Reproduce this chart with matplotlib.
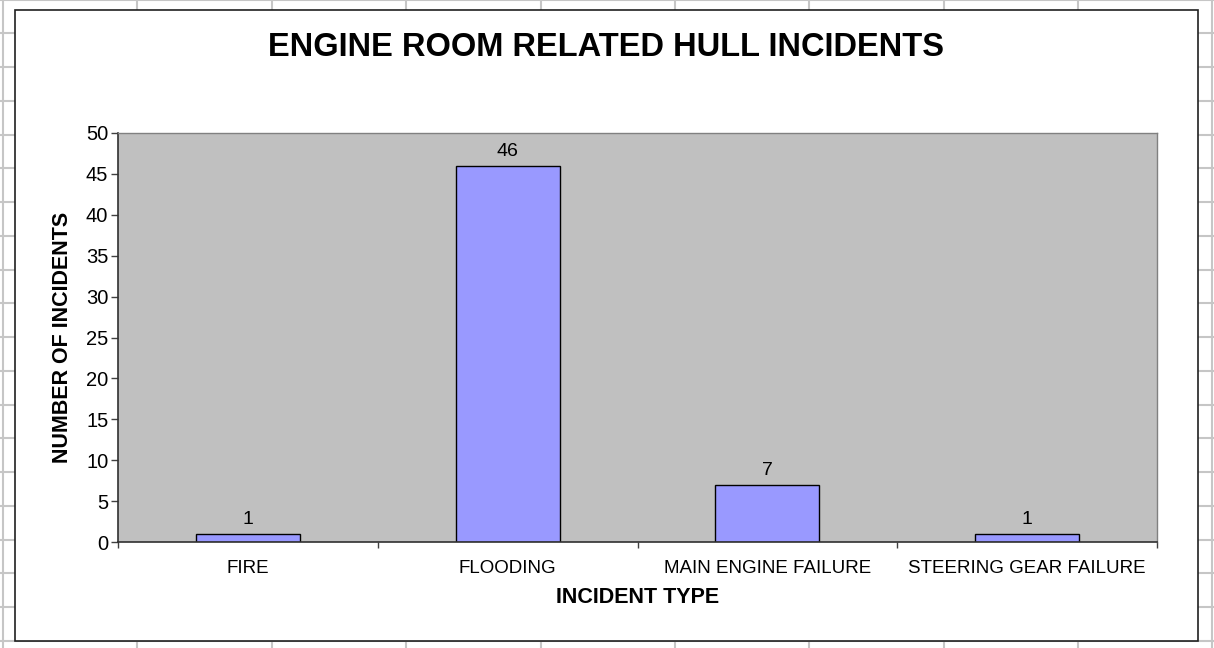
import matplotlib
matplotlib.use("Agg")
import matplotlib.pyplot as plt
from matplotlib.lines import Line2D
from matplotlib.patches import Rectangle

categories = ["FIRE", "FLOODING", "MAIN ENGINE FAILURE", "STEERING GEAR FAILURE"]
values = [1, 46, 7, 1]
y_ticks = [0, 5, 10, 15, 20, 25, 30, 35, 40, 45, 50]

W, H = 1214, 648
plt.rcParams['font.family'] = ['Liberation Sans', 'DejaVu Sans']
fig = plt.figure(figsize=(W / 100, H / 100), dpi=100)

# spreadsheet background grid
grid_c = '#c6c6c6'
for x in [3, 137, 272, 406, 541, 675, 809, 944, 1078, 1212]:
    fig.add_artist(Line2D([x / W, x / W], [0, 1], color=grid_c, lw=1.5, zorder=-3))
for k in range(0, 21):
    y = -0.5 + 33.75 * k
    fig.add_artist(Line2D([0, 1], [1 - y / H, 1 - y / H], color=grid_c, lw=1.5, zorder=-3))

# chart area box
fig.add_artist(Rectangle((15 / W, 1 - 641 / H), (1198 - 15) / W, (641 - 10) / H,
                         facecolor='white', edgecolor='#202020', lw=1.2, zorder=-1))

ax = fig.add_axes([118 / W, 1 - 542 / H, (1157 - 118) / W, (542 - 133) / H])
ax.set_facecolor('#C0C0C0')
x = list(range(len(categories)))
bars = ax.bar(x, values, width=0.4, color='#9999FF', edgecolor='black', linewidth=1.0)
for xi, v in zip(x, values):
    ax.annotate(str(v), (xi, v), xytext=(0, 4), textcoords='offset points',
                ha='center', va='bottom', fontsize=14, color='black')

ax.set_xlim(-0.5, 3.5)
ax.set_ylim(0, 50)
ax.set_yticks(y_ticks)
ax.set_yticklabels([str(t) for t in y_ticks], fontsize=14.5)
ax.set_xticks(x)
ax.set_xticklabels(categories, fontsize=13.5)
ax.set_xticks([-0.5, 0.5, 1.5, 2.5, 3.5], minor=True)
ax.tick_params(axis='x', which='major', length=0, pad=13)
ax.tick_params(axis='x', which='minor', length=4, direction='out', width=1, color='#404040')
ax.tick_params(axis='y', length=5, direction='out', width=1, color='#404040', pad=2)

for s in ['top', 'right']:
    ax.spines[s].set_color('#808080')
    ax.spines[s].set_linewidth(1)
for s in ['left', 'bottom']:
    ax.spines[s].set_color('#303030')
    ax.spines[s].set_linewidth(1.2)

ax.set_xlabel('INCIDENT TYPE', fontsize=15.5, fontweight='bold', labelpad=7)
ax.set_ylabel('NUMBER OF INCIDENTS', fontsize=15.5, fontweight='bold', labelpad=9)

fig.text(606 / W, 1 - 48 / H, 'ENGINE ROOM RELATED HULL INCIDENTS',
         ha='center', va='center', fontsize=23.5, fontweight='bold')

fig.savefig('out.png', dpi=100)
